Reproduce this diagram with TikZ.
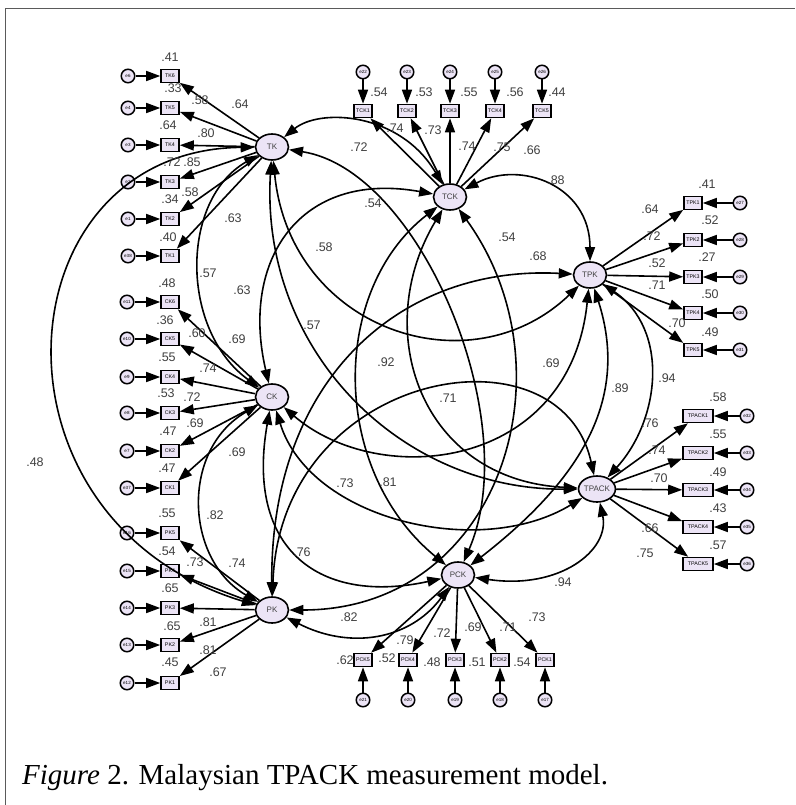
\documentclass[tikz,border=0pt]{standalone}
\usepackage{fontspec}
\setmainfont{Liberation Sans}
\newfontfamily\capfont{Liberation Serif}
\usetikzlibrary{arrows.meta,shapes.geometric}
\definecolor{nodefill}{RGB}{236,228,246}
\definecolor{framegray}{RGB}{90,90,90}
\begin{document}
\begin{tikzpicture}[x=1pt,y=1pt,
  lat/.style={ellipse, draw=black, line width=1.6pt, fill=nodefill, minimum width=33pt, minimum height=26pt, inner sep=0pt, font=\fontsize{8}{8}\selectfont, text=black!75},
  obs/.style={rectangle, draw=black, line width=1.6pt, fill=nodefill, minimum width=18pt, minimum height=13pt, inner sep=0pt, font=\fontsize{5.3}{5.3}\selectfont},
  obsw/.style={obs, minimum width=30pt},
  err/.style={circle, draw=black, line width=1.5pt, fill=nodefill, minimum size=13.5pt, inner sep=0pt, font=\fontsize{4.5}{4.5}\selectfont},
  load/.style={line width=1.6pt, -{Triangle[length=14pt,width=10pt]}},
  cov/.style={line width=1.6pt, {Triangle[length=14pt,width=10pt]}-{Triangle[length=14pt,width=10pt]}},
  lbl/.style={font=\fontsize{12.5}{12.5}\selectfont, text=black!75, inner sep=0pt},
]
\useasboundingbox (0,0) rectangle (795,-805);
\draw[framegray, line width=1.8pt] (5.5,-805) -- (5.5,-8.5) -- (795,-8.5);

% latent factors
\node[lat] (TK) at (272,-147) {TK};
\node[lat] (TCK) at (450,-197) {TCK};
\node[lat] (TPK) at (590,-275) {TPK};
\node[lat] (CK) at (272,-397) {CK};
\node[lat] (TPACK) at (597,-489) {TPACK};
\node[lat] (PCK) at (458,-575) {PCK};
\node[lat] (PK) at (272,-610) {PK};

% TK indicators
\foreach \n/\y/\e in {TK6/76/e6, TK5/108/e4, TK4/145/e3, TK3/182/e2, TK2/219/e1, TK1/256/e38}{
  \node[obs] (\n) at (170,-\y) {\n};
  \node[err] (\e) at (128,-\y) {\e};
  \draw[load] (\e) -- (\n);
  \draw[load] (TK) -- (\n);
}
% CK indicators
\foreach \n/\y/\e in {CK6/302/e11, CK5/339/e10, CK4/377/e9, CK3/413/e8, CK2/451/e7, CK1/488/e37}{
  \node[obs] (\n) at (170,-\y) {\n};
  \node[err] (\e) at (127,-\y) {\e};
  \draw[load] (\e) -- (\n);
  \draw[load] (CK) -- (\n);
}
% PK indicators
\foreach \n/\y/\e in {PK5/533/e16, PK4/571/e15, PK3/608/e14, PK2/645/e13, PK1/683/e12}{
  \node[obs] (\n) at (170,-\y) {\n};
  \node[err] (\e) at (127,-\y) {\e};
  \draw[load] (\e) -- (\n);
  \draw[load] (PK) -- (\n);
}
% TCK indicators
\foreach \n/\x/\e in {TCK1/363/e22, TCK2/407/e23, TCK3/450/e24, TCK4/495/e25, TCK5/542/e26}{
  \node[obs] (\n) at (\x,-111) {\n};
  \node[err] (\e) at (\x,-72) {\e};
  \draw[load] (\e) -- (\n);
  \draw[load] (TCK) -- (\n);
}
% TPK indicators
\foreach \n/\y/\e in {TPK1/203/e27, TPK2/240/e28, TPK3/277/e29, TPK4/313/e30, TPK5/350/e31}{
  \node[obs] (\n) at (693,-\y) {\n};
  \node[err] (\e) at (740,-\y) {\e};
  \draw[load] (\e) -- (\n);
  \draw[load] (TPK) -- (\n);
}
% TPACK indicators
\foreach \n/\y/\e in {TPACK1/416/e32, TPACK2/453/e33, TPACK3/490/e34, TPACK4/527/e35, TPACK5/564/e36}{
  \node[obsw] (\n) at (698,-\y) {\n};
  \node[err] (\e) at (747,-\y) {\e};
  \draw[load] (\e) -- (\n);
  \draw[load] (TPACK) -- (\n);
}
% PCK indicators
\foreach \n/\x/\e in {PCK5/363/e21, PCK4/408/e20, PCK3/455/e19, PCK2/500/e18, PCK1/545/e17}{
  \node[obs] (\n) at (\x,-660) {\n};
  \node[err] (\e) at (\x,-700) {\e};
  \draw[load] (\e) -- (\n);
  \draw[load] (PCK) -- (\n);
}

% covariances
\draw[cov] (TK) .. controls (320,-108) and (400,-112) .. (TCK);
\draw[cov] (TK) .. controls (290,-330) and (470,-390) .. (TPK);
\draw[cov] (TK) .. controls (0,-150) and (-25,-520) .. (PK);
\draw[cov] (TK) .. controls (180,-200) and (180,-330) .. (CK);
\draw[cov] (TK) .. controls (420,-170) and (525,-420) .. (PCK);
\draw[cov] (TK) .. controls (260,-350) and (400,-490) .. (TPACK);
\draw[cov] (TCK) .. controls (520,-160) and (590,-185) .. (TPK);
\draw[cov] (TCK) .. controls (300,-170) and (240,-260) .. (CK);
\draw[cov] (TCK) .. controls (330,-290) and (330,-470) .. (PCK);
\draw[cov] (TCK) .. controls (370,-330) and (420,-480) .. (TPACK);
\draw[cov] (TCK) .. controls (575,-370) and (500,-610) .. (PK);
\draw[cov] (TPK) .. controls (570,-470) and (380,-490) .. (CK);
\draw[cov] (TPK) .. controls (400,-265) and (270,-380) .. (PK);
\draw[cov] (TPK) .. controls (630,-400) and (580,-480) .. (PCK);
\draw[cov] (TPK) .. controls (670,-330) and (660,-420) .. (TPACK);
\draw[cov] (CK) .. controls (180,-450) and (185,-560) .. (PK);
\draw[cov] (CK) .. controls (245,-550) and (320,-605) .. (PCK);
\draw[cov] (CK) .. controls (310,-520) and (480,-560) .. (TPACK);
\draw[cov] (PK) .. controls (280,-370) and (560,-320) .. (TPACK);
\draw[cov] (PK) .. controls (350,-650) and (410,-640) .. (PCK);
\draw[cov] (PCK) .. controls (560,-590) and (610,-550) .. (TPACK);

% squared multiple correlations and loadings, TK block
\node[lbl] (r1) at (170,-57) {.41};
\node[lbl] (r2) at (173,-88) {.33};
\node[lbl] (r3) at (168,-125) {.64};
\node[lbl] (r4) at (172,-162) {.72};
\node[lbl] (r5) at (170,-199) {.34};
\node[lbl] (r6) at (168,-237) {.40};
\node[lbl] (l1) at (240,-104) {.64};
\node[lbl] (l2) at (200,-100) {.58};
\node[lbl] (l3) at (206,-133) {.80};
\node[lbl] (l4) at (192,-162) {.85};
\node[lbl] (l5) at (190,-192) {.58};
\node[lbl] (l6) at (233,-218) {.63};
% CK block
\node[lbl] (r7) at (167,-283) {.48};
\node[lbl] (r8) at (165,-320) {.36};
\node[lbl] (r9) at (167,-357) {.55};
\node[lbl] (r10) at (166,-393) {.53};
\node[lbl] (r11) at (168,-431) {.47};
\node[lbl] (r12) at (167,-468) {.47};
\node[lbl] (l7) at (237,-339) {.69};
\node[lbl] (l8) at (197,-333) {.60};
\node[lbl] (l9) at (208,-368) {.74};
\node[lbl] (l10) at (192,-397) {.72};
\node[lbl] (l11) at (195,-423) {.69};
\node[lbl] (l12) at (237,-452) {.69};
% PK block
\node[lbl] (r13) at (167,-513) {.55};
\node[lbl] (r14) at (167,-551) {.54};
\node[lbl] (r15) at (170,-588) {.65};
\node[lbl] (r16) at (172,-626) {.65};
\node[lbl] (r17) at (170,-662) {.45};
\node[lbl] (l13) at (237,-563) {.74};
\node[lbl] (l14) at (195,-562) {.73};
\node[lbl] (l15) at (208,-622) {.81};
\node[lbl] (l16) at (208,-650) {.81};
\node[lbl] (l17) at (218,-672) {.67};
% TCK block
\node[lbl] (r18) at (379,-92) {.54};
\node[lbl] (r19) at (424,-92) {.53};
\node[lbl] (r20) at (469,-92) {.55};
\node[lbl] (r21) at (515,-92) {.56};
\node[lbl] (r22) at (557,-92) {.44};
\node[lbl] (l18) at (395,-128) {.74};
\node[lbl] (l19) at (433,-130) {.73};
\node[lbl] (l20) at (467,-146) {.74};
\node[lbl] (l21) at (502,-147) {.75};
\node[lbl] (l22) at (532,-150) {.66};
% TPK block
\node[lbl] (r23) at (707,-184) {.41};
\node[lbl] (r24) at (710,-220) {.52};
\node[lbl] (r25) at (707,-257) {.27};
\node[lbl] (r26) at (710,-294) {.50};
\node[lbl] (r27) at (710,-332) {.49};
\node[lbl] (l23) at (650,-209) {.64};
\node[lbl] (l24) at (652,-236) {.72};
\node[lbl] (l25) at (657,-263) {.52};
\node[lbl] (l26) at (657,-285) {.71};
\node[lbl] (l27) at (677,-323) {.70};
% TPACK block
\node[lbl] (r28) at (718,-397) {.58};
\node[lbl] (r29) at (718,-434) {.55};
\node[lbl] (r30) at (718,-472) {.49};
\node[lbl] (r31) at (718,-508) {.43};
\node[lbl] (r32) at (718,-545) {.57};
\node[lbl] (l28) at (650,-423) {.76};
\node[lbl] (l29) at (657,-450) {.74};
\node[lbl] (l30) at (659,-478) {.70};
\node[lbl] (l31) at (650,-528) {.66};
\node[lbl] (l32) at (645,-553) {.75};
% PCK block
\node[lbl] (r33) at (345,-660) {.62};
\node[lbl] (r34) at (387,-658) {.52};
\node[lbl] (r35) at (432,-662) {.48};
\node[lbl] (r36) at (477,-662) {.51};
\node[lbl] (r37) at (522,-662) {.54};
\node[lbl] (l33) at (405,-640) {.79};
\node[lbl] (l34) at (442,-633) {.72};
\node[lbl] (l35) at (473,-627) {.69};
\node[lbl] (l36) at (508,-627) {.71};
\node[lbl] (l37) at (537,-617) {.73};
% correlations between factors
\node[lbl] (c1) at (359,-147) {.72};
\node[lbl] (c2) at (373,-203) {.54};
\node[lbl] (c3) at (556,-180) {.88};
\node[lbl] (c4) at (507,-237) {.54};
\node[lbl] (c5) at (324,-247) {.58};
\node[lbl] (c6) at (538,-256) {.68};
\node[lbl] (c7) at (208,-273) {.57};
\node[lbl] (c8) at (242,-290) {.63};
\node[lbl] (c9) at (312,-325) {.57};
\node[lbl] (c10) at (386,-362) {.92};
\node[lbl] (c11) at (551,-363) {.69};
\node[lbl] (c12) at (448,-398) {.71};
\node[lbl] (c13) at (620,-388) {.89};
\node[lbl] (c14) at (667,-378) {.94};
\node[lbl] (c15) at (35,-462) {.48};
\node[lbl] (c16) at (345,-483) {.73};
\node[lbl] (c17) at (388,-482) {.81};
\node[lbl] (c18) at (215,-515) {.82};
\node[lbl] (c19) at (302,-552) {.76};
\node[lbl] (c20) at (349,-617) {.82};
\node[lbl] (c21) at (563,-582) {.94};

% caption
\node[anchor=base west, inner sep=0pt, font=\capfont\fontsize{29}{29}\selectfont] (cap) at (22,-784) {\textit{Figure} 2. Malaysian TPACK measurement model.};
\end{tikzpicture}
\end{document}
